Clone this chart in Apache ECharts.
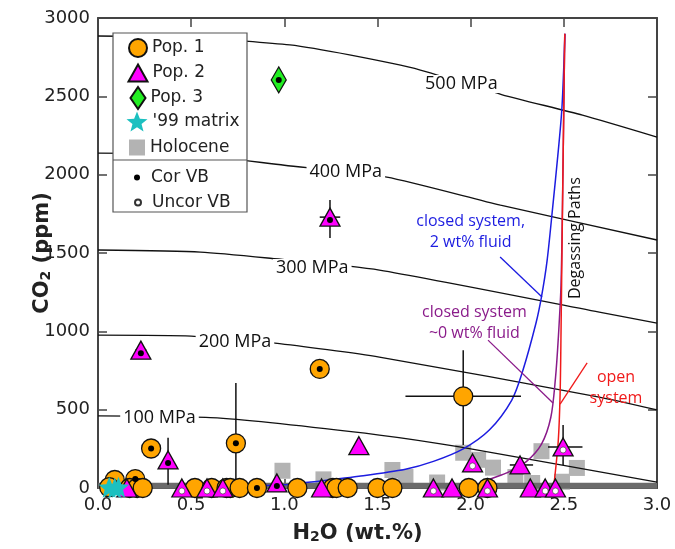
<!DOCTYPE html>
<html>
<head>
<meta charset="utf-8">
<script src="https://cdn.jsdelivr.net/npm/echarts@6/dist/echarts.min.js"></script>
<style>html,body{margin:0;padding:0;background:#fff}#c{width:675px;height:549px}</style>
</head>
<body>
<div id="c"></div>
<script>
// ---- data (H2O wt.%, CO2 ppm, vapor-bubble correction flag: c = corrected, u = uncorrected, n = none)
const pop1 = [
  [0.09,51,'n'],[0.06,5,'n'],[0.20,57,'c'],[0.17,0,'n'],[0.21,0,'n'],[0.24,0,'n'],
  [0.285,252,'c'],[0.52,0,'n'],[0.61,0,'n'],[0.69,0,'n'],[0.71,0,'n'],[0.76,0,'n'],
  [0.853,0,'c'],[1.07,0,'n'],[1.26,0,'n'],[1.28,0,'n'],[1.34,0,'n'],[1.50,0,'n'],
  [1.58,0,'n'],[1.99,0,'n'],[2.09,0,'n'],[0.74,285,'c'],[1.19,760,'c'],[1.96,585,'n']
];
const pop2 = [
  [0.23,880,'c'],[0.376,179,'c'],[1.245,1729,'c'],[1.40,270,'n'],[2.01,160,'u'],
  [2.265,147,'n'],[2.496,262,'u'],[0.96,32,'c'],[0.155,0,'n'],[0.45,0,'u'],[0.585,0,'u'],
  [0.67,0,'u'],[1.20,0,'n'],[1.80,0,'u'],[1.90,0,'n'],[2.09,0,'u'],[2.32,0,'n'],
  [2.40,0,'u'],[2.455,0,'u']
];
const pop3 = [[0.97,2605,'c']];
const matrix99 = [[0.06,5],[0.09,0],[0.11,5]];
const holocene = [
  [0.99,110],[1.21,55],[1.58,115],[1.65,70],[1.82,35],[1.96,225],[2.04,180],[2.12,130],
  [2.24,70],[2.33,32],[2.38,235],[2.49,40],[2.57,128]
];
// error bars: [x, y, xLow, xHigh, yLow, yHigh]
const errorBars = [
  [1.96,585,1.65,2.27,275,880],
  [0.74,285,0.74,0.74,30,670],
  [1.245,1729,1.19,1.30,1595,1838],
  [0.23,880,0.20,0.26,840,920],
  [0.376,179,0.376,0.376,20,320],
  [2.265,147,2.21,2.335,147,147],
  [2.496,262,2.415,2.60,147,402]
];
// isobars (solubility curves)
const iso500 = [[0,2885],[0.55,2872],[1.03,2828],[1.35,2764],[1.73,2668],[2.17,2510],[2.6,2380],[3.0,2240]];
const iso400 = [[0,2138],[0.5,2128],[1.0,2060],[1.55,1985],[2.16,1806],[3.0,1583]];
const iso300 = [[0,1519],[0.55,1506],[0.91,1468],[1.51,1391],[2.69,1123],[3.0,1053]];
const iso200 = [[0,976],[0.5,970],[0.95,925],[1.51,836],[2.69,580],[3.0,498]];
const iso100 = [[0,460],[0.64,447],[1.51,338],[1.94,262],[3.0,38]];
const isoLabels = [['500 MPa',1.95,2578],['400 MPa',1.33,2017],['300 MPa',1.15,1404],['200 MPa',0.735,932],['100 MPa',0.33,447]];
// degassing paths
const closed2 = [[0.5,0],[1.0,20],[1.1,32],[1.4,75],[1.65,120],[1.8,170],[1.96,250],[2.1,370],[2.22,560],[2.28,750],[2.35,1050],[2.38,1220],[2.41,1450],[2.44,1790],[2.47,2150],[2.49,2430],[2.506,2900]];
const closed0 = [[2.0,0],[2.1,55],[2.2,100],[2.3,170],[2.38,280],[2.43,450],[2.455,700],[2.47,950],[2.485,1300],[2.495,2000],[2.505,2900]];
const openSys = [[2.445,0],[2.47,300],[2.48,600],[2.485,1000],[2.495,2000],[2.505,2900]];
const grayBar = [[0,15],[3,15]];
const leaderBlue = [[2.158,1474],[2.383,1219]];
const leaderPurple = [[2.093,944],[2.442,542]];
const leaderRed = [[2.625,798],[2.48,536]];

const blue = '#1c1ce0', purple = '#8a1b8a', red = '#f01a1a';

function markerData(arr){ return arr.map(d => [d[0], d[1]]); }
function dots(flag){
  const out = [];
  [[pop1,0],[pop2,3],[pop3,0]].forEach(([arr,off]) => arr.forEach(d => {
    if (d[2] === flag) out.push({value:[d[0],d[1]], symbolOffset:[0,off]});
  }));
  return out;
}
function isoSeries(data){
  return {type:'line', data, symbol:'none', smooth:0.2, z:3, silent:true,
    lineStyle:{color:'#111', width:1.3}};
}
function pathSeries(data,color,w){
  return {type:'line', data, symbol:'none', smooth:0.3, z:4, silent:true,
    lineStyle:{color, width:w}};
}
function annot(text, x, y, color, extra){
  return {type:'scatter', symbolSize:0, z:8, silent:true, itemStyle:{opacity:1},
    data:[{value:[x,y], name:text}],
    label:Object.assign({show:true, position:'inside', formatter:'{b}', color, fontFamily:'Open Sans', fontSize:16, lineHeight:21, align:'center', verticalAlign:'middle'}, extra||{})};
}

const star = 'path://M0,-10 L2.6,-3.4 L9.5,-3.1 L4.1,1.3 L5.9,8.1 L0,4.3 L-5.9,8.1 L-4.1,1.3 L-9.5,-3.1 L-2.6,-3.4 Z';
const legText = {fontFamily:'DejaVu Sans', fontSize:17, color:'#222'};
function leg(name, top, w, h, shift){
  return {data:[name], left:137 - w/2 + (shift||0), top:top - h/2, itemWidth:w, itemHeight:h, padding:0,
    selectedMode:false, textStyle:legText, z:20, itemGap:0};
}
const axisLineStyle = {show:true, onZero:false, lineStyle:{color:'#444', width:2}};
const tickStyle = {show:true, inside:true, length:9, lineStyle:{color:'#444', width:1.5}};
const nameRich = {
  a:{fontFamily:'DejaVu Sans', fontWeight:'bold', fontSize:21, color:'#222', lineHeight:26, verticalAlign:'bottom'},
  b:{fontFamily:'DejaVu Sans', fontWeight:'bold', fontSize:14, color:'#222', lineHeight:20, verticalAlign:'bottom'}
};

const chart = echarts.init(document.getElementById('c'));
chart.setOption({
  animation:false,
  backgroundColor:'#fff',
  grid:{left:98, right:18, top:18, bottom:61},
  xAxis:[
    {type:'value', min:0, max:3, interval:0.5, position:'bottom',
     axisLine:axisLineStyle, axisTick:tickStyle,
     axisLabel:{formatter:v => v.toFixed(1), fontFamily:'DejaVu Sans', fontSize:18, color:'#222', margin:8},
     splitLine:{show:false},
     name:'{a|H}{b|2}{a|O (wt.%)}', nameLocation:'middle', nameGap:30, nameMoveOverlap:false,
     nameTextStyle:{rich:nameRich, padding:[0,40,0,0]}},
    {type:'value', min:0, max:3, interval:0.5, position:'top',
     axisLine:axisLineStyle, axisTick:tickStyle,
     axisLabel:{show:false}, splitLine:{show:false}}
  ],
  yAxis:[
    {type:'value', min:0, max:3000, interval:500, position:'left',
     axisLine:axisLineStyle, axisTick:tickStyle,
     axisLabel:{formatter:v => String(v), fontFamily:'DejaVu Sans', fontSize:18, color:'#222', margin:8},
     splitLine:{show:false},
     name:'{a|CO}{b|2}{a| (ppm)}', nameLocation:'middle', nameGap:45, nameMoveOverlap:false,
     nameTextStyle:{rich:nameRich}},
    {type:'value', min:0, max:3000, interval:500, position:'right',
     axisLine:axisLineStyle, axisTick:tickStyle,
     axisLabel:{show:false}, splitLine:{show:false}}
  ],
  legend:[
    leg('Pop. 1',47,18,18),
    leg('Pop. 2',72,19,17),
    leg('Pop. 3',97,15,22),
    leg("'99 matrix",122,21,21),
    leg('Holocene',147,16,16),
    leg('Cor VB',172,18,6,6),
    leg('Uncor VB',197,18,6,6)
  ],
  graphic:[
    {type:'rect', shape:{x:113, y:33, width:134, height:179}, style:{fill:'#fff', stroke:'#555', lineWidth:1.2}, z:15, silent:true},
    {type:'line', shape:{x1:113, y1:160, x2:247, y2:160}, style:{stroke:'#555', lineWidth:1.2}, z:16, silent:true}
  ],
  series:[
    {name:'Holocene', type:'scatter', data:holocene, symbol:'rect', symbolSize:16, z:1,
     itemStyle:{color:'#b3b3b3', opacity:1}},
    {type:'line', data:grayBar, symbol:'none', z:2, silent:true, lineStyle:{color:'#6b6b6b', width:6}},
    isoSeries(iso500), isoSeries(iso400), isoSeries(iso300), isoSeries(iso200), isoSeries(iso100),
    {type:'scatter', symbolSize:0, z:5, silent:true, itemStyle:{opacity:1},
     data:isoLabels.map(d => ({name:d[0], value:[d[1], d[2]]})),
     label:{show:true, position:'inside', formatter:'{b}', fontFamily:'Open Sans', fontSize:18, color:'#111',
            backgroundColor:'#fff', padding:[0,3]}},
    pathSeries(closed2, blue, 1.5),
    pathSeries(closed0, purple, 1.5),
    pathSeries(openSys, red, 1.5),
    {type:'line', data:leaderBlue, symbol:'none', z:4, silent:true, lineStyle:{color:blue, width:1.3}},
    {type:'line', data:leaderPurple, symbol:'none', z:4, silent:true, lineStyle:{color:purple, width:1.3}},
    {type:'line', data:leaderRed, symbol:'none', z:4, silent:true, lineStyle:{color:red, width:1.3}},
    annot('closed system,\n2 wt% fluid', 2.0, 1634, blue),
    annot('closed system\n~0 wt% fluid', 2.02, 1053, purple),
    annot('open\nsystem', 2.78, 638, red),
    annot('Degassing Paths', 2.56, 1595, '#111', {rotate:90}),
    {type:'custom', z:6, silent:true, data:errorBars,
     renderItem:(params, api) => {
       const a = api.coord([api.value(2), api.value(1)]);
       const b = api.coord([api.value(3), api.value(1)]);
       const c = api.coord([api.value(0), api.value(4)]);
       const d = api.coord([api.value(0), api.value(5)]);
       const st = {stroke:'#111', lineWidth:1.5};
       return {type:'group', children:[
         {type:'line', shape:{x1:a[0], y1:a[1], x2:b[0], y2:b[1]}, style:st},
         {type:'line', shape:{x1:c[0], y1:c[1], x2:d[0], y2:d[1]}, style:st}
       ]};
     }},
    {name:'Pop. 1', type:'scatter', data:markerData(pop1), symbol:'circle', symbolSize:19, z:7,
     itemStyle:{color:'#ffa500', borderColor:'#111', borderWidth:1.3, opacity:1}},
    {name:'Pop. 2', type:'scatter', data:markerData(pop2), symbol:'triangle', symbolSize:[20,18], z:7,
     itemStyle:{color:'#ff00ff', borderColor:'#111', borderWidth:1.3, opacity:1}},
    {name:'Pop. 3', type:'scatter', data:markerData(pop3), symbol:'diamond', symbolSize:[15,26], z:7,
     itemStyle:{color:'#22ee22', borderColor:'#111', borderWidth:1.3, opacity:1}},
    {name:"'99 matrix", type:'scatter', data:matrix99, symbol:star, symbolSize:21, z:7,
     itemStyle:{color:'#1cc0c0', opacity:1}},
    {name:'Cor VB', type:'scatter', data:dots('c'), symbol:'circle', symbolSize:6, z:8,
     itemStyle:{color:'#000', opacity:1}},
    {name:'Uncor VB', type:'scatter', data:dots('u'), symbol:'circle', symbolSize:6, z:8,
     itemStyle:{color:'#fff', borderColor:'#333', borderWidth:0.6, opacity:1}}
  ]
});
</script>
</body>
</html>
